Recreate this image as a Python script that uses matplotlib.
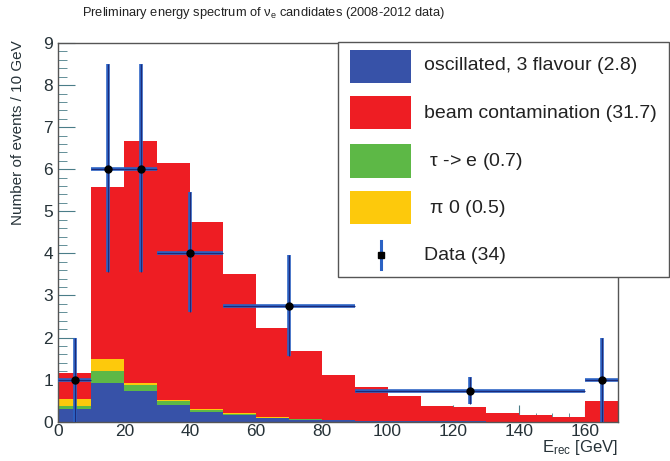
import numpy as np
import matplotlib.pyplot as plt
from matplotlib.patches import Rectangle
from matplotlib.ticker import MultipleLocator

plt.rcParams['font.family'] = ['Liberation Sans', 'DejaVu Sans']
plt.rcParams['mathtext.default'] = 'regular'

# 10 GeV bins, 0 - 170 GeV
bin_edges = np.arange(0, 171, 10)
oscillated = [0.29, 0.93, 0.73, 0.40, 0.23, 0.17, 0.08, 0.05, 0.03, 0.02, 0.01, 0.01, 0.01, 0.0, 0.0, 0.0, 0.0]
tau_e = [0.08, 0.27, 0.13, 0.08, 0.04, 0.02, 0.01, 0.01, 0.01, 0.0, 0.0, 0.0, 0.0, 0.0, 0.0, 0.0, 0.0]
pi0 = [0.16, 0.28, 0.05, 0.04, 0.02, 0.01, 0.01, 0.0, 0.0, 0.0, 0.0, 0.0, 0.0, 0.0, 0.0, 0.0, 0.0]
total = [1.16, 5.58, 6.67, 6.16, 4.74, 3.52, 2.22, 1.69, 1.11, 0.82, 0.61, 0.37, 0.34, 0.20, 0.16, 0.10, 0.48]

# data points (per 10 GeV)
data_x = [5, 15, 25, 40, 70, 125, 165]
data_xerr = [5, 5, 5, 10, 20, 35, 5]
data_y = [1.0, 6.0, 6.0, 4.0, 2.76, 0.73, 1.0]
data_lo = [1.0, 2.45, 2.45, 1.4, 1.2, 0.31, 1.0]
data_hi = [1.0, 2.5, 2.5, 1.45, 1.2, 0.32, 1.0]

labels = ['oscillated, 3 flavour (2.8)', 'beam contamination (31.7)',
          r' $\tau$ -> e (0.7)', r' $\pi$ 0 (0.5)', 'Data (34)']
colors = ['#3752a8', '#ee1d23', '#5db846', '#fdc90c']

fig = plt.figure(figsize=(6.7, 4.61), dpi=100)
ax = fig.add_axes([0.0873, 0.0853, 0.8351, 0.8214])
ax.set_axisbelow(True)

c1 = np.array(oscillated)
c2 = c1 + np.array(tau_e)
c3 = c2 + np.array(pi0)
c4 = np.array(total)
# draw cumulative histograms back to front
for vals, col in [(c4, colors[1]), (c3, colors[3]), (c2, colors[2]), (c1, colors[0])]:
    ax.stairs(vals, bin_edges, fill=True, color=col, lw=0)

ax.errorbar(data_x, data_y, xerr=data_xerr, yerr=[data_lo, data_hi], fmt='none',
            ecolor='#2b62c4', elinewidth=2.6, capsize=0, zorder=3)
ax.errorbar(data_x, data_y, xerr=data_xerr, yerr=[data_lo, data_hi], fmt='o',
            color='black', ms=5, ecolor='#1c2a78', elinewidth=0.8, capsize=0, zorder=4)

ax.set_xlim(0, 170)
ax.set_ylim(0, 9)
ax.xaxis.set_major_locator(MultipleLocator(20))
ax.xaxis.set_minor_locator(MultipleLocator(5))
ax.yaxis.set_major_locator(MultipleLocator(1))
ax.yaxis.set_minor_locator(MultipleLocator(0.2))
ax.tick_params(which='both', direction='in', colors='#4a7d88', labelcolor='#263238',
               labelsize=12.5, top=False, right=False)
ax.tick_params(which='major', length=12)
ax.tick_params(which='minor', length=6.5)
ax.tick_params(axis='x', pad=1.5)
ax.tick_params(axis='y', pad=4)
for s in ax.spines.values():
    s.set_color('#555555')
    s.set_linewidth(1.0)

fig.text(18 / 670, 1 - 40 / 461, 'Number of events / 10 GeV', rotation=90,
         ha='center', va='top', fontsize=11, color='#263238')
fig.text(618 / 670, 1 - 452 / 461, r'E$_{rec}$ [GeV]', ha='right', va='baseline',
         fontsize=12, color='#263238')

fig.text(264 / 670, 0.972, r'Preliminary energy spectrum of $\nu_e$ candidates (2008-2012 data)',
         ha='center', va='center', fontsize=9.3, color='#222222')

# legend box drawn by hand (ROOT style)
lx0, ly0, lw_, lh = 338 / 670, 1 - 277 / 461, 331 / 670, 235 / 461
fig.patches.append(Rectangle((lx0, ly0), lw_, lh, transform=fig.transFigure,
                             facecolor='white', edgecolor='#555555', lw=1.0, zorder=5))
rows_y = [66, 113, 161, 208, 255]
for i, lab in enumerate(labels):
    yc = 1 - rows_y[i] / 461
    if i < 4:
        col = colors[i]
        fig.patches.append(Rectangle((350 / 670, yc - 16.5 / 461), 61 / 670, 33 / 461,
                                     transform=fig.transFigure, facecolor=col,
                                     edgecolor='none', zorder=6))
    else:
        xm = 381 / 670
        fig.lines.append(plt.Line2D([xm, xm], [yc - 14 / 461, yc + 14 / 461],
                                    transform=fig.transFigure, color='#2b62c4', lw=2.2, zorder=6))
        fig.lines.append(plt.Line2D([xm], [yc], transform=fig.transFigure, marker='s',
                                    color='black', ms=4, zorder=7))
    fig.text(424 / 670, yc, lab, ha='left', va='center', fontsize=14, color='#222222', zorder=8)

fig.savefig('out.png', dpi=100)
